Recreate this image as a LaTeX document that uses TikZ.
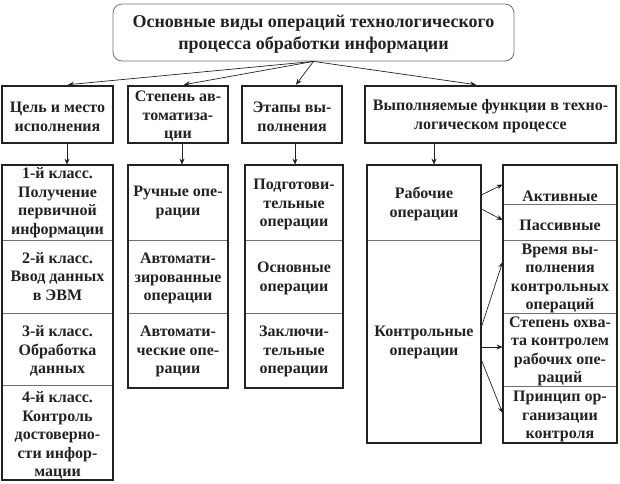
\documentclass[tikz,border=0pt]{standalone}
\usepackage{fontspec}
\setmainfont{Liberation Serif}
\usetikzlibrary{arrows.meta,fit,calc}
\definecolor{ink}{HTML}{222222}
\definecolor{rulegray}{HTML}{707070}
\newcommand{\mycell}[7][0]{%
  \node[cellbox, fit={(#3,#4) (#5,#6)}] (#2) {};
  \node[txt] (#2t) at ($(#2.center)+(0,#1)$) {#7};}
\begin{document}
\begin{tikzpicture}[x=1pt,y=-1pt,
  txt/.style={font=\fontsize{16}{18.5}\selectfont\bfseries, text=ink, align=center, inner sep=0pt},
  titletxt/.style={font=\fontsize{18}{22}\selectfont\bfseries, text=ink, align=center, inner sep=0pt},
  cellbox/.style={draw=rulegray, line width=0.8pt, inner sep=0pt},
  framebox/.style={draw=ink, line width=2.6pt, inner sep=0pt},
  arr/.style={draw=ink, line width=0.7pt, -{Stealth[length=6pt,width=5pt]}},
]
\useasboundingbox (0,0) rectangle (620,483);

% title
\node[draw=rulegray, line width=0.8pt, rounded corners=9pt, inner sep=0pt,
      fit={(113,4) (514,61)}] (top) {};
\node[titletxt] (topt) at ($(top.center)+(0,1.5)$)
  {Основные виды операций технологического\\процесса обработки информации};

% level 2
\node[framebox, fit={(2,86) (113,143)}] (b1) {};
\node[txt] (b1t) at ($(b1.center)+(0,2.5)$) {Цель и место\\исполнения};
\node[framebox, fit={(128,86) (228,143)}] (b2) {};
\node[txt] (b2t) at ($(b2.center)+(0,2)$) {Степень ав-\\томатиза-\\ции};
\node[framebox, fit={(242,86) (342,143)}] (b3) {};
\node[txt] (b3t) at ($(b3.center)+(0,2.5)$) {Этапы вы-\\полнения};
\node[framebox, fit={(365,86) (616,143)}] (b4) {};
\node[txt] (b4t) at ($(b4.center)+(0,1.5)$) {Выполняемые функции в техно-\\логическом процессе};

% column 1
\mycell{c11}{2}{165}{113}{240}{1-й класс.\\Получение\\первичной\\информации}
\mycell{c12}{2}{240}{113}{313}{2-й класс.\\Ввод данных\\в ЭВМ}
\mycell[2]{c13}{2}{313}{113}{385}{3-й класс.\\Обработка\\данных}
\mycell[3]{c14}{2}{385}{113}{480}{4-й класс.\\Контроль\\достоверно-\\сти инфор-\\мации}
\node[framebox, fit={(2,165) (113,480)}] (col1) {};

% column 2
\mycell{c21}{128}{165}{228}{240}{Ручные опе-\\рации}
\mycell[2]{c22}{128}{240}{228}{313}{Автомати-\\зированные\\операции}
\mycell[1]{c23}{128}{313}{228}{388}{Автомати-\\ческие опе-\\рации}
\node[framebox, fit={(128,165) (228,388)}] (col2) {};

% column 3
\mycell[2]{c31}{245}{165}{343}{240}{Подготови-\\тельные\\операции}
\mycell[2]{c32}{245}{240}{343}{313}{Основные\\операции}
\mycell[1]{c33}{245}{313}{343}{388}{Заключи-\\тельные\\операции}
\node[framebox, fit={(245,165) (343,388)}] (col3) {};

% column 4
\mycell[1.5]{c41}{367}{165}{481}{240}{Рабочие\\операции}
\mycell[1]{c42}{367}{240}{481}{443}{Контрольные\\операции}
\node[framebox, fit={(367,165) (481,443)}] (col4) {};

% column 5
\mycell[12]{c51}{503}{165}{617}{204}{Активные}
\mycell[3]{c52}{503}{204}{617}{240}{Пассивные}
\mycell[2]{c53}{503}{240}{617}{313}{Время вы-\\полнения\\контрольных\\операций}
\mycell[2]{c54}{503}{313}{617}{386}{Степень охва-\\та контролем\\рабочих опе-\\раций}
\mycell[2]{c55}{503}{386}{617}{443}{Принцип ор-\\ганизации\\контроля}
\node[framebox, fit={(503,165) (617,443)}] (col5) {};

% arrows from title
\draw[arr] (top.south) -- ([xshift=10.5pt]b1.north);
\draw[arr] (top.south) -- ([xshift=6pt]b2.north);
\draw[arr] (top.south) -- ([xshift=4pt]b3.north);
\draw[arr] (top.south) -- ([xshift=-14.5pt]b4.north);

% vertical arrows
\draw[arr] ([xshift=9.5pt]b1.south) -- ([xshift=9.5pt]c11.north);
\draw[arr] ([xshift=4pt]b2.south) -- ([xshift=4pt]c21.north);
\draw[arr] ([xshift=3pt]b3.south) -- ([xshift=1pt]c31.north);
\draw[arr] ([xshift=-56.5pt]b4.south) -- ([xshift=10pt]c41.north);

% side arrows
\draw[arr] ($(c41.east)+(0,-7.5)$) -- (c51.west);
\draw[arr] ($(c41.east)+(0,6.5)$) -- ($(c52.west)+(0,-2)$);
\draw[arr] ($(c42.east)+(0,-14.5)$) -- ($(c53.west)+(0,-14.5)$);
\draw[arr] ($(c42.east)+(0,5.5)$) -- ($(c54.west)+(0,-2.5)$);
\draw[arr] ($(c42.east)+(0,18.5)$) -- ($(c55.west)+(0,-1.5)$);
\end{tikzpicture}
\end{document}
